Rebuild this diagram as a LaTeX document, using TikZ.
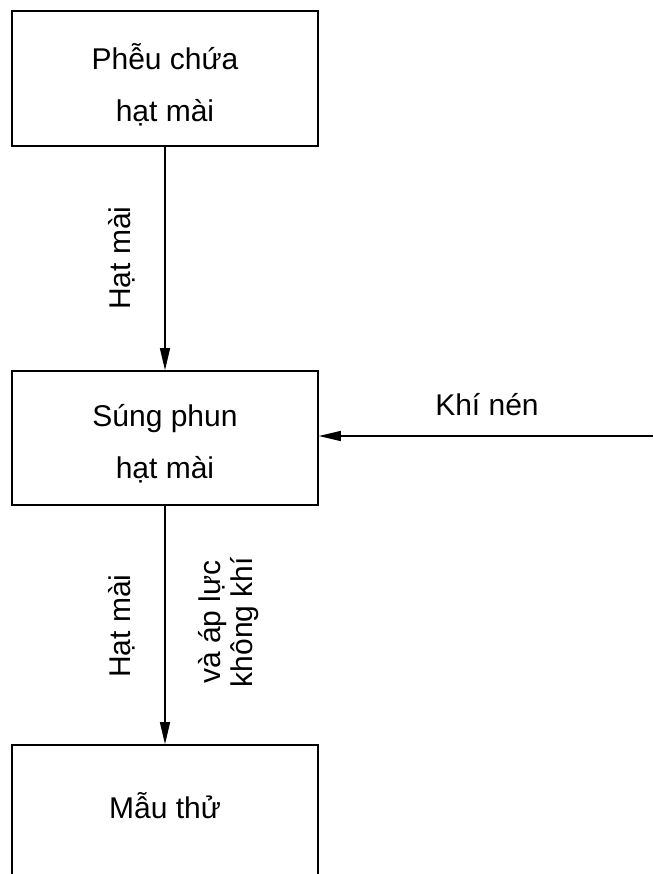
\documentclass[tikz,border=0pt]{standalone}
\usepackage{fontspec}
\setmainfont{Liberation Sans}
\usetikzlibrary{arrows.meta}

\tikzset{
  flowbox/.style={draw, line width=1.6pt, minimum width=306pt, inner sep=0pt},
  boxtext/.style={align=center, font=\fontsize{30}{52}\selectfont, inner sep=0pt},
  flowarrow/.style={line width=1.3pt, -{Triangle[length=22pt, width=10pt]}},
  flowlabel/.style={rotate=90, align=center, font=\fontsize{30}{32}\selectfont, inner sep=0pt},
  airlabel/.style={font=\fontsize{30}{32}\selectfont, inner sep=0pt}
}

\begin{document}
\begin{tikzpicture}[x=1pt, y=-1pt]
  \useasboundingbox (0,0) rectangle (653,874);
  \fill[white] (0,0) rectangle (653,874);

  % Boxes
  \node[flowbox, minimum height=135pt] (hopper) at (165,78.5) {};
  \node[flowbox, minimum height=134pt] (gun) at (165,438) {};
  \begin{scope}
    \clip (0,0) rectangle (653,874);
    \node[flowbox, minimum height=150pt] (sample) at (165,820) {};
  \end{scope}

  % Box captions
  \node[boxtext] (hoppertext) at (165,85) {Phễu chứa\\hạt mài};
  \node[boxtext] (guntext) at (165,444) {Súng phun\\hạt mài};
  \node[boxtext] (sampletext) at (165,806) {Mẫu thử};

  % Compressed air inlet
  \coordinate (airin) at (653,436);
  \draw[flowarrow] (airin) -- (airin -| gun.east);
  \node[airlabel] (airtext) at (487,405) {Khí nén};

  % Abrasive feed and blast stream
  \draw[flowarrow] (hopper.south) -- (gun.north);
  \draw[flowarrow] (gun.south) -- (sample.north);

  \node[flowlabel] (feedtext) at (121.7,258) {Hạt mài};
  \node[flowlabel] (streamtext) at (121.7,626) {Hạt mài};
  \node[flowlabel] (airtext2) at (229,622) {và áp lực\\không khí};
\end{tikzpicture}
\end{document}
